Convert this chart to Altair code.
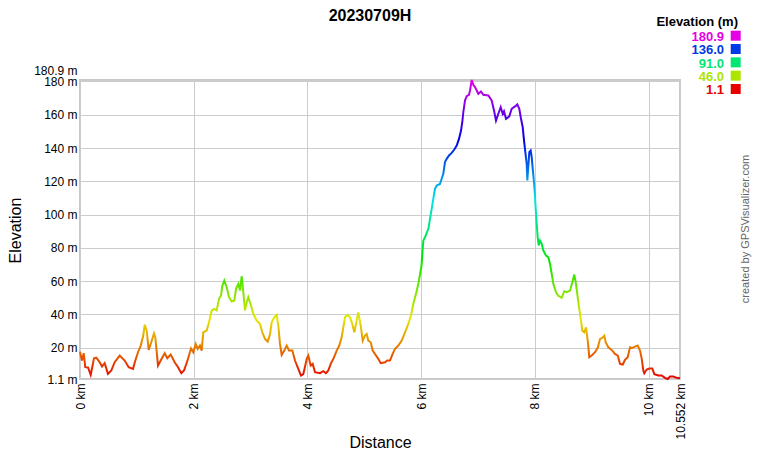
import altair as alt
import pandas as pd

chart_title = "20230709H"
credit = "created by GPSVisualizer.com"

dist_km = [
    0.000, 0.035, 0.065, 0.093, 0.141, 0.188, 0.211, 0.246, 0.287, 0.346, 0.387, 0.434, 0.492, 0.550, 0.610,
    0.698, 0.786, 0.856, 0.932, 0.973, 1.020, 1.068, 1.113, 1.138, 1.173, 1.208, 1.254, 1.301, 1.324, 1.372,
    1.419, 1.490, 1.535, 1.595, 1.665, 1.724, 1.782, 1.829, 1.887,
    1.952, 1.993, 2.035, 2.070, 2.110, 2.140, 2.168, 2.228, 2.269, 2.316, 2.362, 2.404, 2.445, 2.480, 2.503,
    2.538, 2.580, 2.620, 2.668, 2.714, 2.744, 2.784, 2.814, 2.844, 2.872, 2.902, 2.932, 2.960, 3.007, 3.048,
    3.108, 3.166, 3.206, 3.254, 3.301, 3.342, 3.371, 3.417, 3.459, 3.488, 3.517, 3.547, 3.593, 3.635, 3.676,
    3.734, 3.781, 3.839, 3.887, 3.927, 3.957,
    3.987, 4.015, 4.057, 4.092, 4.133, 4.221, 4.279, 4.326, 4.367, 4.409, 4.455, 4.515, 4.560, 4.602, 4.631,
    4.661, 4.701, 4.748, 4.789, 4.824, 4.866, 4.894, 4.937, 4.972, 5.012, 5.042, 5.070, 5.113, 5.148, 5.206,
    5.246, 5.288, 5.364, 5.404, 5.452, 5.499, 5.540, 5.598, 5.658, 5.716, 5.774, 5.821, 5.862, 5.909, 5.950,
    5.980,
    6.006, 6.020, 6.038, 6.080, 6.126, 6.155, 6.185, 6.213, 6.243, 6.273, 6.331, 6.361, 6.389, 6.419, 6.449,
    6.490, 6.537, 6.583, 6.625, 6.665, 6.701, 6.723, 6.741, 6.771, 6.801, 6.841, 6.859, 6.889, 6.917, 6.947,
    6.977, 7.005, 7.052, 7.093,
    7.181, 7.240, 7.281, 7.316, 7.357, 7.399, 7.434, 7.457, 7.492, 7.550, 7.592, 7.650, 7.691, 7.726, 7.751,
    7.786, 7.809, 7.832, 7.856, 7.867, 7.902, 7.926, 7.944, 7.962, 7.984, 8.002, 8.014, 8.032, 8.049, 8.067,
    8.090, 8.120, 8.148, 8.196, 8.236, 8.266, 8.296, 8.324, 8.371,
    8.407, 8.472, 8.517, 8.560, 8.618, 8.658, 8.693, 8.718, 8.753, 8.776, 8.811, 8.834, 8.869, 8.899, 8.929,
    8.957, 8.999, 9.057, 9.105, 9.145, 9.186, 9.221, 9.245, 9.291, 9.351, 9.409, 9.457, 9.497, 9.545, 9.585,
    9.632, 9.673, 9.713, 9.761, 9.808, 9.849, 9.879, 9.907, 9.924, 9.966, 10.012, 10.065, 10.100, 10.171,
    10.230, 10.288, 10.336, 10.376, 10.434, 10.494, 10.552,
]

elev_m = [
    17.5, 12.2, 16.6, 8.2, 8.0, 3.6, 7.4, 13.5, 13.9, 11.2, 8.6, 10.6, 4.2, 6.2, 11.2,
    15.2, 12.2, 8.2, 7.2, 12.2, 17.2, 21.2, 27.2, 33.8, 30.2, 18.6, 23.2, 28.6, 26.2, 9.2,
    12.2, 16.6, 13.6, 15.8, 11.2, 8.2, 4.6, 6.2, 11.8,
    19.5, 17.2, 22.2, 19.2, 21.2, 18.2, 29.2, 30.2, 35.2, 42.3, 43.2, 42.3, 49.3, 51.3, 57.3,
    60.3, 56.3, 50.3, 47.7, 48.3, 55.3, 58.3, 54.3, 62.9, 53.3, 42.3, 47.3, 50.3, 45.3, 40.3,
    36.2, 34.2, 29.2, 25.2, 23.6, 28.2, 35.2, 38.2, 39.7, 33.2, 22.2, 15.6, 18.2, 21.2, 18.2,
    18.2, 12.2, 7.2, 3.2, 4.0, 8.5,
    13.2, 15.2, 9.2, 10.2, 5.2, 4.6, 5.8, 4.6, 6.2, 10.2, 13.2, 18.2, 21.2, 26.2, 32.2,
    38.2, 39.7, 38.2, 34.2, 29.2, 36.2, 41.2, 33.2, 24.2, 27.2, 28.2, 24.2, 23.2, 18.2, 15.2,
    13.2, 10.6, 11.2, 12.2, 12.2, 16.2, 19.2, 21.2, 24.2, 29.2, 34.2, 39.4, 46.3, 52.3, 58.3,
    64.0,
    69.3, 76.3, 84.3, 87.4, 91.4, 97.4, 103.4, 109.4, 115.4, 117.4, 118.4, 121.5, 124.5, 131.5, 133.5,
    135.5, 137.1, 139.1, 141.5, 145.5, 150.5, 155.5, 161.5, 168.6, 171.2, 172.0, 174.6, 180.9, 178.0, 176.6,
    174.6, 172.6, 174.0, 172.0,
    171.6, 168.6, 162.6, 156.5, 160.6, 164.6, 160.6, 162.1, 157.6, 159.0, 163.6, 165.0, 166.2, 163.6, 158.5,
    152.5, 144.5, 137.5, 130.5, 120.5, 137.5, 138.5, 134.5, 127.5, 119.4, 111.4, 103.4, 94.4, 86.4, 81.4,
    84.4, 82.4, 78.4, 75.3, 74.3, 70.3, 64.3, 58.3, 53.3,
    51.3, 49.9, 53.9, 53.3, 54.3, 59.3, 63.9, 59.3, 50.3, 44.3, 36.2, 30.2, 29.2, 32.2, 24.2,
    14.2, 15.2, 17.2, 19.8, 25.2, 25.8, 27.2, 23.2, 20.2, 18.6, 16.2, 15.2, 10.2, 9.8, 12.6,
    14.2, 20.2, 19.8, 20.6, 21.2, 18.2, 13.2, 6.2, 4.6, 6.8, 7.4, 7.4, 4.0, 3.2,
    3.2, 1.8, 1.1, 2.6, 2.6, 1.8, 1.6,
]

legend_title = "Elevation (m)"
legend_labels = ["180.9", "136.0", "91.0", "46.0", "1.1"]
legend_colors = ["#e600e6", "#003ae6", "#00e673", "#ace600", "#e60000"]

y_ticks = [1.1, 20, 40, 60, 80, 100, 120, 140, 160, 180, 180.9]
x_ticks = [0, 2, 4, 6, 8, 10, 10.552]

grad_colors = ["#e60000", "#e67300", "#e6e600", "#73e600", "#00e600", "#00e673",
               "#00e6e6", "#0073e6", "#0000e6", "#7300e6", "#e600e6"]

FONT = "Liberation Sans"

df = pd.DataFrame({"d": dist_km, "e": elev_m})
leg = pd.DataFrame({"label": legend_labels, "color": legend_colors,
                    "i": list(range(len(legend_labels)))})

gradient = {
    "gradient": "linear", "x1": 0, "y1": 1, "x2": 0, "y2": 0,
    "stops": [{"offset": k / (len(grad_colors) - 1), "color": c} for k, c in enumerate(grad_colors)],
}

line = alt.Chart(df).mark_line(stroke=gradient, strokeWidth=2, interpolate="linear").encode(
    x=alt.X("d:Q", scale=alt.Scale(domain=[0, 10.552], nice=False, zero=False),
            axis=alt.Axis(values=x_ticks, labelExpr="datum.value + ' km'", labelAngle=270,
                          labelAlign="right", labelBaseline="middle", ticks=False, domain=False,
                          labelPadding=4, labelFontSize=12, labelFlush=False, labelOverlap=False,
                          labelColor="#000000", gridColor="#cccccc", title="Distance",
                          titleFontSize=16, titleFontWeight="normal", titleColor="#000000",
                          titleX=300, titleY=68, titleBaseline="alphabetic")),
    y=alt.Y("e:Q", scale=alt.Scale(domain=[1.1, 180.9], nice=False, zero=False),
            axis=alt.Axis(values=y_ticks, labelExpr="datum.value + ' m'", ticks=False, domain=False,
                          labelPadding=3, labelFontSize=12, labelOverlap=False, labelColor="#000000",
                          labelOffset={"condition": {"test": "datum.value > 180.5", "value": -10}, "value": 0},
                          gridColor="#cccccc", title="Elevation", titleFontSize=16,
                          titleFontWeight="normal", titleColor="#000000", titleX=-59.5, titleY=150,
                          titleBaseline="alphabetic")),
)

leg_y = alt.Y("i:Q", scale=alt.Scale(domain=[0, 4], range=[-44.3, 9.0]), axis=None)

leg_text = alt.Chart(leg).mark_text(align="right", baseline="middle", font=FONT, fontSize=13,
                                    fontWeight="bold", dy=1.3).encode(
    x=alt.value(644), y=leg_y, text="label:N", color=alt.Color("color:N", scale=None))
leg_sq = alt.Chart(leg).mark_square(size=100, opacity=1, filled=True).encode(
    x=alt.value(655.7), y=leg_y, color=alt.Color("color:N", scale=None))
legend = alt.layer(leg_text, leg_sq)

leg_head = alt.Chart(pd.DataFrame({"t": [legend_title]})).mark_text(
    align="right", baseline="alphabetic", font=FONT, fontSize=13, fontWeight="bold", color="#000000"
).encode(x=alt.value(658), y=alt.value(-54), text="t:N")

title = alt.Chart(pd.DataFrame({"t": [chart_title]})).mark_text(
    align="center", baseline="alphabetic", font=FONT, fontSize=16, fontWeight="bold", color="#000000"
).encode(x=alt.value(290), y=alt.value(-59), text="t:N")

credit_txt = alt.Chart(pd.DataFrame({"t": [credit]})).mark_text(
    align="center", baseline="middle", font=FONT, fontSize=11, angle=270, color="#666666"
).encode(x=alt.value(665.5), y=alt.value(149), text="t:N")

chart = alt.layer(line, legend, leg_head, title, credit_txt).resolve_scale(y="independent").properties(
    width=600, height=299,
    padding={"left": 72, "top": 72, "right": 72, "bottom": 73},
    autosize=alt.AutoSizeParams(type="none"),
).configure_view(stroke="#c8c8c8", strokeWidth=2).configure_axis(
    labelFont=FONT, titleFont=FONT
)

chart.save("out.html", embed_options={"renderer": "svg", "actions": False})
